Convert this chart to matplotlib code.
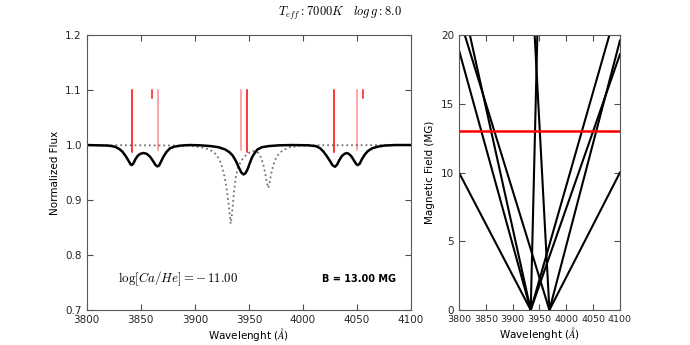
import matplotlib
matplotlib.use('Agg')
import matplotlib.pyplot as plt

plt.rcParams['mathtext.fontset'] = 'cm'

# spectrum with field (solid)
wave_b = [3800, 3820, 3826, 3830, 3833, 3836, 3838.5, 3840.5, 3841.6, 3843, 3845, 3847,
          3849.5, 3852.5, 3855.5, 3858.5, 3861, 3863.5, 3865.5, 3867, 3869, 3871, 3874,
          3877, 3881, 3887, 3895, 3905, 3915, 3922, 3928, 3932, 3935, 3938, 3940.5, 3943,
          3945, 3947, 3949, 3951, 3953, 3955.5, 3958, 3962, 3968, 3978, 3990, 4005, 4012,
          4016, 4019, 4022, 4025, 4027.5, 4029.7, 4031.5, 4033.5, 4036, 4038.5, 4040.5,
          4042.5, 4045, 4047.5, 4049.5, 4050.7, 4052.5, 4054.5, 4057, 4060, 4064, 4069,
          4075, 4085, 4100]
flux_b = [1.0, 0.999, 0.997, 0.993, 0.988, 0.980, 0.972, 0.965, 0.9635, 0.966, 0.974, 0.980,
          0.984, 0.9855, 0.984, 0.979, 0.972, 0.964, 0.961, 0.963, 0.971, 0.979, 0.988,
          0.994, 0.997, 0.999, 1.0, 0.9995, 0.998, 0.996, 0.992, 0.987, 0.981, 0.971, 0.960, 0.950,
          0.9465, 0.949, 0.957, 0.968, 0.978, 0.986, 0.992, 0.996, 0.998, 0.9995, 1.0, 0.9995, 0.998,
          0.994, 0.988, 0.980, 0.971, 0.963, 0.9605, 0.964, 0.972, 0.980, 0.984, 0.9855,
          0.984, 0.979, 0.971, 0.965, 0.9635, 0.966, 0.974, 0.982, 0.989, 0.994, 0.997,
          0.999, 1.0, 1.0]

# zero-field spectrum (dotted)
wave_0 = [3800, 3895, 3902, 3908, 3913, 3917, 3920, 3922.5, 3924.5, 3926.5, 3928.5, 3930,
          3931.5, 3932.5, 3933.2, 3934, 3935, 3936.5, 3938, 3940, 3942.5, 3945, 3948, 3951,
          3954, 3956.5, 3959, 3961, 3963, 3965, 3966.5, 3967.8, 3969, 3970.5, 3972.5, 3975,
          3978, 3982, 3988, 3995, 4005, 4100]
flux_0 = [1.0, 0.999, 0.997, 0.995, 0.992, 0.988, 0.982, 0.974, 0.965, 0.951, 0.932, 0.912,
          0.888, 0.870, 0.857, 0.868, 0.888, 0.920, 0.943, 0.959, 0.970, 0.977, 0.983, 0.987,
          0.989, 0.9885, 0.985, 0.978, 0.967, 0.950, 0.933, 0.922, 0.930, 0.947, 0.963, 0.976,
          0.985, 0.991, 0.996, 0.998, 0.9995, 1.0]

# component markers at B = 13 MG
comp_wave = [3841.5, 3860, 3866, 3942.5, 3948, 4029, 4050, 4056]
comp_bottom = [0.988, 1.085, 0.991, 0.991, 0.988, 0.988, 0.991, 1.085]
comp_alpha = [1.0, 0.9, 0.45, 0.45, 1.0, 1.0, 0.45, 0.9]

# Zeeman components in the B-lambda diagram: start wavelength, end wavelength, end field
line_start = [3933.7, 3933.7, 3933.7, 3933.7, 3933.7, 3933.7, 3968.5, 3968.5, 3968.5, 3968.5]
line_end = [3800, 3800, 3820.3, 3946.0, 4080.3, 4100, 3810.8, 3941.0, 4100, 4100]
line_bend = [10.0, 18.9, 20, 20, 20, 18.6, 20, 20, 19.6, 10.0]

b_field = 13.0

fig = plt.figure(figsize=(6.9, 3.45), dpi=100)
ax1 = fig.add_axes([0.1257, 0.1014, 0.470, 0.797])
ax2 = fig.add_axes([0.6652, 0.1014, 0.2333, 0.797])

ax1.plot(wave_0, flux_0, ':', color='0.45', lw=1.3)
ax1.plot(wave_b, flux_b, '-', color='k', lw=1.8)
for w, b, a in zip(comp_wave, comp_bottom, comp_alpha):
    ax1.plot([w, w], [b, 1.1], color='red', lw=1.1, alpha=a)

ax1.set_xlim(3800, 4100)
ax1.set_ylim(0.7, 1.2)
ax1.set_xticks(range(3800, 4101, 50))
ax1.set_yticks([0.7, 0.8, 0.9, 1.0, 1.1, 1.2])
ax1.set_xlabel(r'Wavelenght ($\AA$)', fontsize=7.5, labelpad=1)
ax1.set_ylabel('Normalized Flux', fontsize=7.5)
ax1.text(3829, 0.756, r'$\log[Ca/He] = -\,11.00$', fontsize=9.3, va='center', ha='left')
ax1.text(4086, 0.756, 'B = %.2f MG' % b_field, fontsize=7, fontweight='bold',
         va='center', ha='right')

for s, e, be in zip(line_start, line_end, line_bend):
    ax2.plot([s, e], [0, be], color='k', lw=1.5)
ax2.axhline(b_field, color='red', lw=1.8)
ax2.set_xlim(3800, 4100)
ax2.set_ylim(0, 20)
ax2.set_xticks(range(3800, 4101, 50))
ax2.set_yticks([0, 5, 10, 15, 20])
ax2.set_xlabel(r'Wavelenght ($\AA$)', fontsize=7.5, labelpad=1)
ax2.set_ylabel('Magnetic Field (MG)', fontsize=7.5)

for ax in (ax1, ax2):
    ax.tick_params(direction='in', top=True, right=True, labelsize=7.5, length=4,
                   color='0.3', labelcolor='0.15')
    for sp in ax.spines.values():
        sp.set_color('0.35')
ax2.tick_params(axis='x', labelsize=6.8)

fig.text(0.493, 0.962, r'$T_{eff}: 7000K\ \ \ log\, g: 8.0$', fontsize=9,
         ha='center', va='center')

fig.savefig('out.png', dpi=100)
